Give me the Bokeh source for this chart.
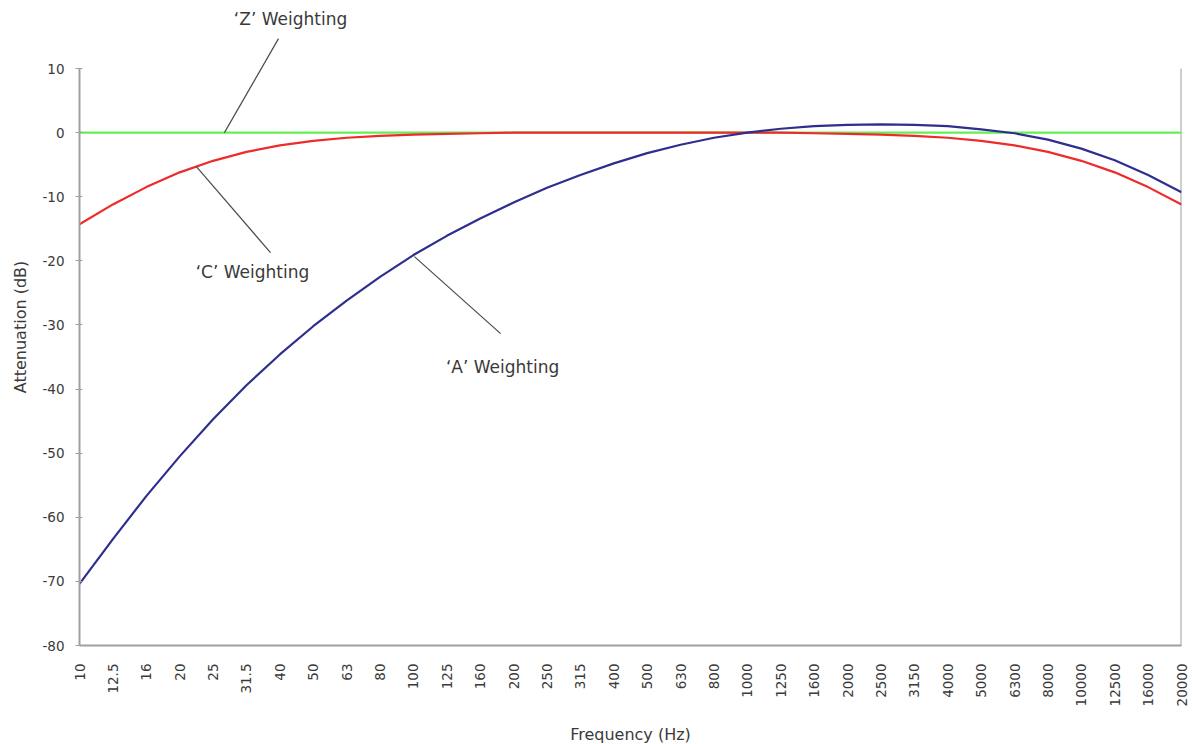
import math
from bokeh.plotting import figure
from bokeh.models import Range1d, FixedTicker, ColumnDataSource, Label
from bokeh.embed import file_html
from bokeh.resources import INLINE

freqs = ["10", "12.5", "16", "20", "25", "31.5", "40", "50", "63", "80", "100", "125",
         "160", "200", "250", "315", "400", "500", "630", "800", "1000", "1250", "1600",
         "2000", "2500", "3150", "4000", "5000", "6300", "8000", "10000", "12500", "16000", "20000"]
a_weight = [-70.4, -63.4, -56.7, -50.5, -44.7, -39.4, -34.6, -30.2, -26.2, -22.5, -19.1, -16.1,
            -13.4, -10.9, -8.6, -6.6, -4.8, -3.2, -1.9, -0.8, 0.0, 0.6, 1.0,
            1.2, 1.3, 1.2, 1.0, 0.5, -0.1, -1.1, -2.5, -4.3, -6.6, -9.3]
c_weight = [-14.3, -11.2, -8.5, -6.2, -4.4, -3.0, -2.0, -1.3, -0.8, -0.5, -0.3, -0.2,
            -0.1, 0.0, 0.0, 0.0, 0.0, 0.0, 0.0, 0.0, 0.0, 0.0, -0.1,
            -0.2, -0.3, -0.5, -0.8, -1.3, -2.0, -3.0, -4.4, -6.2, -8.5, -11.2]
z_weight = [0.0] * len(freqs)
y_ticks = [-80, -70, -60, -50, -40, -30, -20, -10, 0, 10]

xs = list(range(len(freqs)))
src = ColumnDataSource(dict(x=xs, a=a_weight, c=c_weight, z=z_weight))

FONT = "DejaVu Sans"
AXIS_GRAY = "#a0a0a0"
TEXT = "#3a3a3a"

y_top = 19.36
p = figure(frame_width=1102, frame_height=637,
           x_range=Range1d(0, len(freqs) - 1), y_range=Range1d(-80, y_top),
           output_backend="svg", toolbar_location=None,
           min_border_left=79, min_border_right=11, min_border_top=8, min_border_bottom=80,
           background_fill_color="white", border_fill_color="white")
p.outline_line_color = None
p.grid.visible = False

# y axis
ya = p.yaxis[0]
ya.ticker = FixedTicker(ticks=y_ticks)
ya.major_label_overrides = {t: str(t) for t in y_ticks}
ya.bounds = (-80, 10)
ya.axis_line_color = AXIS_GRAY
ya.axis_line_width = 2
ya.major_tick_line_color = AXIS_GRAY
ya.major_tick_line_width = 1
ya.major_tick_in = 3
ya.major_tick_out = 4
ya.minor_tick_line_color = None
ya.major_label_standoff = 11
ya.major_label_text_font = FONT
ya.major_label_text_font_size = "13.5px"
ya.major_label_text_color = TEXT
ya.axis_label = "Attenuation (dB)"
ya.axis_label_text_font = FONT
ya.axis_label_text_font_size = "16px"
ya.axis_label_text_font_style = "normal"
ya.axis_label_text_color = TEXT
ya.axis_label_standoff = 9

# x axis
xa = p.xaxis[0]
xa.ticker = FixedTicker(ticks=xs)
xa.major_label_overrides = {i: f for i, f in enumerate(freqs)}
xa.major_label_orientation = math.pi / 2
xa.axis_line_color = AXIS_GRAY
xa.axis_line_width = 2
xa.major_tick_line_color = None
xa.minor_tick_line_color = None
xa.major_label_standoff = 12
xa.major_label_text_font = FONT
xa.major_label_text_font_size = "13.5px"
xa.major_label_text_color = TEXT
xa.axis_label = "Frequency (Hz)"
xa.axis_label_text_font = FONT
xa.axis_label_text_font_size = "16px"
xa.axis_label_text_font_style = "normal"
xa.axis_label_text_color = TEXT
xa.axis_label_standoff = 16

# right border of plot area
p.segment(x0=[len(freqs) - 1], y0=[-80], x1=[len(freqs) - 1], y1=[10],
          line_color=AXIS_GRAY, line_width=2)

# curves
p.line("x", "z", source=src, line_color="#66ee55", line_width=2.2)
p.line("x", "c", source=src, line_color="#ee2a2a", line_width=2.2)
p.line("x", "a", source=src, line_color="#2e2e8f", line_width=2.2)

# leader lines (positions in data coordinates)
lead_x0 = [5.96, 3.50, 10.03]
lead_y0 = [14.66, -5.30, -19.34]
lead_x1 = [4.34, 5.72, 12.61]
lead_y1 = [0.0, -18.72, -31.35]
p.segment(x0=lead_x0, y0=lead_y0, x1=lead_x1, y1=lead_y1, line_color="#4a4a4a", line_width=1.2)

for txt, lx, ly in [("‘Z’ Weighting", 6.32, 17.8),
                    ("‘C’ Weighting", 5.18, -21.8),
                    ("‘A’ Weighting", 12.67, -36.5)]:
    p.add_layout(Label(x=lx, y=ly, text=txt, text_align="center", text_baseline="middle",
                       text_font=FONT, text_font_size="17px", text_color=TEXT))

open("out.html", "w").write(file_html(p, INLINE))
